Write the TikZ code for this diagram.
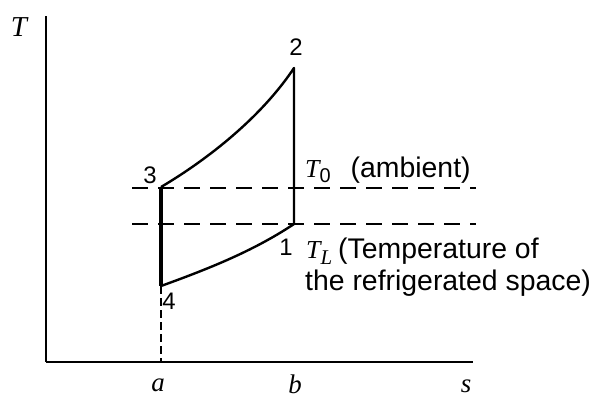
\documentclass[tikz,border=0pt]{standalone}
\usepackage{fontspec}
\setmainfont{Liberation Sans}
\newfontfamily\serifitfont{Liberation Serif}
\newcommand\vr[1]{{\serifitfont\itshape #1}}
\begin{document}
\begin{tikzpicture}[x=1bp,y=-1bp,
  yaxisline/.style={line width=2.8bp},
  xaxisline/.style={line width=1.8bp},
  procline/.style={line width=2.4bp, line join=round},
  thickproc/.style={line width=3.2bp},
  refline/.style={line width=1.5bp, dash pattern=on 16bp off 10bp},
  dropline/.style={line width=1.8bp, dash pattern=on 8bp off 4bp},
  numlbl/.style={font=\fontsize{24}{26}\selectfont, inner sep=0},
  txtlbl/.style={font=\fontsize{28.5}{32}\selectfont, inner sep=0, anchor=west},
  varlbl/.style={font=\fontsize{27}{30}\serifitfont\itshape, inner sep=0}]
\useasboundingbox (0,0) rectangle (605,405);
% axes
\coordinate (O) at (46,362);
\coordinate (ytop) at (46,16);
\coordinate (xend) at (473,362);
\draw[yaxisline] (ytop) -- (O);
\draw[xaxisline] (O) -- (xend);
\node[varlbl, font=\fontsize{29}{30}\serifitfont\itshape] (Tax) at (19,27) {T};
\node[varlbl] (sax) at (466,386) {s};
\node[varlbl] (aax) at (158,385) {a};
\node[varlbl] (bax) at (295,384) {b};
% reference temperature lines
\coordinate (t0l) at (132,188);
\coordinate (t0r) at (476,188);
\coordinate (tll) at (132,224);
\coordinate (tlr) at (476,224);
\draw[refline] (t0l) -- (t0r);
\draw[refline] (tll) -- (tlr);
% cycle states
\coordinate (p1) at (294,224);
\coordinate (p2) at (294,68);
\coordinate (p3) at (161,187);
\coordinate (p4) at (161,286);
\draw[procline] (p3) .. controls (200,164) and (258,122) .. (p2) -- (p1)
  .. controls (252,252) and (205,270) .. (p4);
\draw[thickproc] (p3) -- (p4);
\draw[dropline] (p4) -- (p4 |- O);
% state numbers
\node[numlbl] (n2) at (296,47) {2};
\node[numlbl] (n3) at (150,175) {3};
\node[numlbl] (n1) at (286,247) {1};
\node[numlbl] (n4) at (169,301) {4};
% labels
\node[txtlbl] (t0lab) at (305,170) {{\fontsize{26}{26}\serifitfont\itshape T}\raisebox{-5bp}{\fontsize{20}{20}\selectfont 0}\hspace{20bp}(ambient)};
\node[txtlbl] (tllab) at (306,251) {{\fontsize{26}{26}\serifitfont\itshape T}\raisebox{-6bp}{\fontsize{21}{21}\serifitfont\itshape L}\hspace{6bp}(Temperature of};
\node[txtlbl] (tllab2) at (305,283) {the refrigerated space)};
\end{tikzpicture}
\end{document}
